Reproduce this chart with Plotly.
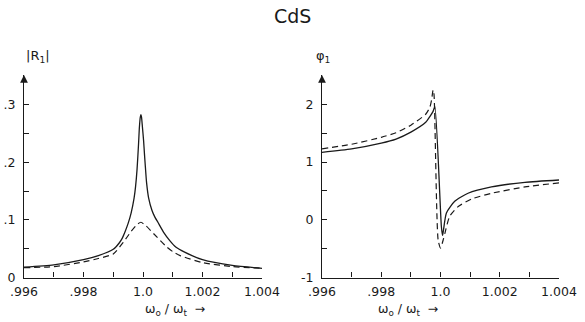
import plotly.graph_objects as go

# ---------------- data ----------------
w_R_solid = [0.996, 0.997, 0.998, 0.9985, 0.999, 0.9992, 0.9993, 0.9994, 0.9995, 0.9996, 0.9997,
             0.99975, 0.9998, 0.99985, 0.99988, 0.99991, 0.99993, 0.99995, 0.99998,
             1.00002, 1.00005, 1.00008, 1.00012, 1.00019, 1.0003, 1.0004, 1.0005,
             1.0007, 1.0009, 1.0011, 1.0014, 1.002, 1.003, 1.004]
R_solid = [0.018, 0.022, 0.031, 0.038, 0.049, 0.060, 0.068, 0.080, 0.094, 0.112, 0.138,
           0.158, 0.188, 0.232, 0.262, 0.279, 0.283, 0.279, 0.262,
           0.238, 0.214, 0.192, 0.165, 0.138, 0.117, 0.105, 0.096,
           0.078, 0.064, 0.053, 0.044, 0.031, 0.021, 0.016]

w_R_dash = [0.996, 0.997, 0.998, 0.9985, 0.999, 0.99935, 0.9996, 0.9998, 0.99993,
            1.0001, 1.00036, 1.0008, 1.001, 1.00125, 1.002, 1.003, 1.004]
R_dash = [0.017, 0.019, 0.027, 0.033, 0.041, 0.062, 0.080, 0.092, 0.096,
          0.090, 0.076, 0.053, 0.045, 0.038, 0.026, 0.019, 0.016]

w_P_solid = [0.996, 0.997, 0.998, 0.9985, 0.999, 0.9995, 0.99964, 0.99975, 0.99981,
             1.00003, 1.00007, 1.0001, 1.0002, 1.00048, 1.00093, 1.00172, 1.00285, 1.004]
P_solid = [1.17, 1.23, 1.33, 1.40, 1.52, 1.69, 1.79, 1.88, 1.96,
           -0.12, -0.27, -0.18, 0.12, 0.32, 0.46, 0.57, 0.65, 0.69]

w_P_dash = [0.996, 0.997, 0.998, 0.9985, 0.999, 0.9995, 0.99964, 0.9997, 0.99975, 0.99978,
            0.99992, 1.0, 1.00009, 1.00015, 1.00031, 1.0006, 1.00105, 1.00172, 1.00285, 1.004]
P_dash = [1.23, 1.31, 1.43, 1.51, 1.64, 1.83, 1.95, 2.08, 2.25, 2.18,
          -0.35, -0.49, -0.35, -0.23, 0.06, 0.23, 0.36, 0.46, 0.57, 0.64]

x_tickvals = [0.996, 0.997, 0.998, 0.999, 1.0, 1.001, 1.002, 1.003, 1.004]
x_ticktext = [".996", "", ".998", "", "1.0", "", "1.002", "", "1.004"]
R_tickvals = [0, 0.05, 0.1, 0.15, 0.2, 0.25, 0.3]
R_ticktext = ["0", "", ".1", "", ".2", "", ".3"]
P_tickvals = [-1, -0.5, 0, 0.5, 1, 1.5, 2]
P_ticktext = ["-1", "", "0", "", "1", "", "2"]

title_text = "CdS"
xlabel = "ω<sub>o</sub> / ω<sub>t</sub>  →"
ylabel_left = "|R<sub>1</sub>|"
ylabel_right = "φ<sub>1</sub>"

# ---------------- figure ----------------
FONT = "DejaVu Sans"
INK = "#1a1a1a"
W, H = 585, 322

def px2x(p):
    return p / W

def px2y(p):
    return (H - p) / H

fig = go.Figure()
line_solid = dict(color=INK, width=1.3, shape="spline", smoothing=0.6)
line_dash = dict(color=INK, width=1.2, dash="6px,4px", shape="spline", smoothing=0.6)

fig.add_trace(go.Scatter(x=w_R_solid, y=R_solid, mode="lines", line=line_solid,
                         xaxis="x", yaxis="y", showlegend=False))
fig.add_trace(go.Scatter(x=w_R_dash, y=R_dash, mode="lines", line=line_dash,
                         xaxis="x", yaxis="y", showlegend=False))
fig.add_trace(go.Scatter(x=w_P_solid, y=P_solid, mode="lines", line=line_solid,
                         xaxis="x2", yaxis="y2", showlegend=False))
fig.add_trace(go.Scatter(x=w_P_dash, y=P_dash, mode="lines", line=line_dash,
                         xaxis="x2", yaxis="y2", showlegend=False))

ydom = [px2y(277.5), px2y(75)]
TF = dict(family=FONT, size=12.5, color=INK)
common_x = dict(range=[0.996, 1.004], tickvals=x_tickvals, ticktext=x_ticktext,
                ticks="inside", ticklen=5, tickwidth=1, tickcolor=INK,
                showline=True, linecolor=INK, linewidth=1.3, showgrid=False,
                zeroline=False, tickfont=TF, automargin=False, ticklabelstandoff=2)
common_y = dict(ticks="inside", ticklen=5, tickwidth=1, tickcolor=INK,
                showline=True, linecolor=INK, linewidth=1.3, showgrid=False,
                zeroline=False, tickfont=TF, automargin=False, ticklabelstandoff=5)

fig.update_layout(
    width=W, height=H,
    margin=dict(l=0, r=0, t=0, b=0, autoexpand=False),
    paper_bgcolor="white", plot_bgcolor="white",
    xaxis=dict(domain=[px2x(24), px2x(262)], anchor="y", **common_x),
    yaxis=dict(domain=ydom, anchor="x", range=[0, 0.352],
               tickvals=R_tickvals, ticktext=R_ticktext, **common_y),
    xaxis2=dict(domain=[px2x(322), px2x(559)], anchor="y2", **common_x),
    yaxis2=dict(domain=ydom, anchor="x2", range=[-1, 2.51],
                tickvals=P_tickvals, ticktext=P_ticktext, **common_y),
)

annos = [
    dict(text=title_text, x=0.5, y=px2y(16), xref="paper", yref="paper",
         yanchor="middle", showarrow=False, font=dict(family=FONT, size=19, color=INK)),
    dict(text=xlabel, x=px2x(143), y=px2y(309), xref="paper", yref="paper",
         yanchor="middle", showarrow=False, font=dict(family=FONT, size=12.5, color=INK)),
    dict(text=xlabel, x=px2x(440), y=px2y(309), xref="paper", yref="paper",
         yanchor="middle", showarrow=False, font=dict(family=FONT, size=12.5, color=INK)),
    dict(text=ylabel_left, x=px2x(24), y=px2y(57), xref="paper", yref="paper",
         yanchor="middle", showarrow=False, font=dict(family=FONT, size=13, color=INK)),
    dict(text=ylabel_right, x=px2x(323), y=px2y(57), xref="paper", yref="paper",
         yanchor="middle", showarrow=False, font=dict(family=FONT, size=13, color=INK)),
    # axis arrowheads
    dict(x=0.996, y=0.352, xref="x", yref="y", ax=0, ay=8, axref="pixel", ayref="pixel",
         showarrow=True, arrowhead=2, arrowsize=1.2, arrowwidth=1.3, arrowcolor=INK, text=""),
    dict(x=0.996, y=2.51, xref="x2", yref="y2", ax=0, ay=8, axref="pixel", ayref="pixel",
         showarrow=True, arrowhead=2, arrowsize=1.2, arrowwidth=1.3, arrowcolor=INK, text=""),
]
fig.update_layout(annotations=annos)

fig.write_html("out.html", config={"displayModeBar": False},
               post_script="document.body.style.margin='0px';document.body.style.padding='0px';")
